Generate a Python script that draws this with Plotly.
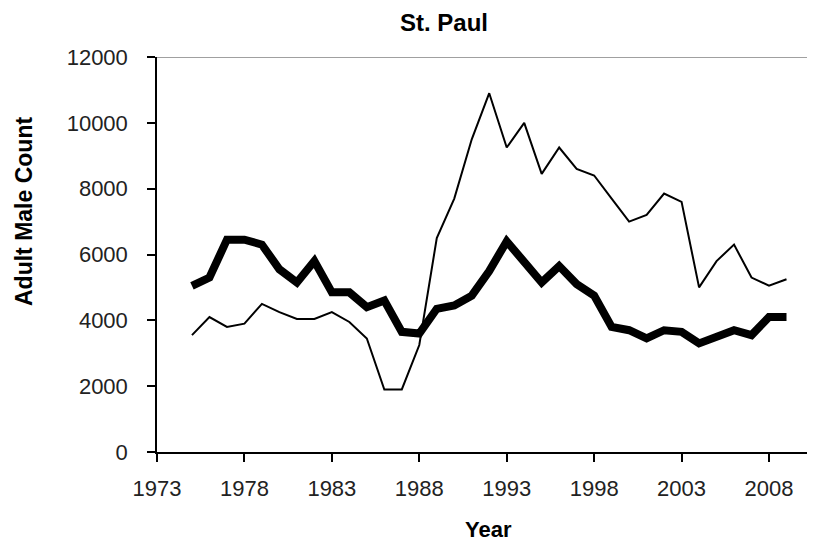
import plotly.graph_objects as go

years = list(range(1975, 2010))
thin_counts = [3550, 4100, 3800, 3900, 4500, 4250, 4040, 4040, 4250, 3950,
               3450, 1900, 1900, 3250, 6500, 7700, 9500, 10900, 9250, 10000,
               8450, 9250, 8600, 8400, 7700, 7000, 7200, 7850, 7600, 5000,
               5800, 6300, 5300, 5050, 5250]
thick_counts = [5050, 5300, 6450, 6450, 6300, 5550, 5150, 5800, 4850, 4850,
                4400, 4600, 3650, 3600, 4350, 4450, 4750, 5500, 6400, 5800,
                5150, 5650, 5100, 4750, 3800, 3700, 3450, 3700, 3650, 3300,
                3500, 3700, 3550, 4100, 4100]
x_ticks = [1973, 1978, 1983, 1988, 1993, 1998, 2003, 2008]
y_ticks = [0, 2000, 4000, 6000, 8000, 10000, 12000]

FONT = "Arial, Liberation Sans, sans-serif"
OFF = 8  # page body offset

W, H = 815 - OFF, 548 - OFF
L, T = 157 - OFF, 57 - OFF
PW, PH = W - L, 395

fig = go.Figure()
fig.add_trace(go.Scatter(x=years, y=thin_counts, mode="lines",
                         line=dict(color="black", width=2), showlegend=False))
fig.add_trace(go.Scatter(x=years, y=thick_counts, mode="lines",
                         line=dict(color="black", width=8), showlegend=False))

fig.add_shape(type="line", xref="paper", yref="y", x0=0, x1=1, y0=12000, y1=12000,
              line=dict(color="#a0a0a0", width=2))

fig.update_layout(
    width=W, height=H,
    margin=dict(l=L, r=0, t=T, b=H - T - PH),
    paper_bgcolor="white", plot_bgcolor="white",
    title=dict(text="<b>St. Paul</b>", x=(444 - OFF) / W, y=1 - (23 - OFF) / H,
               xanchor="center", yanchor="middle",
               font=dict(family=FONT, size=24, color="black")),
    xaxis=dict(range=[1973, 1973 + PW / 17.486], tickvals=x_ticks, ticktext=[str(v) for v in x_ticks],
               showgrid=False, zeroline=False, showline=True, linecolor="black", linewidth=1.5,
               ticks="outside", ticklen=8, tickwidth=1.5, tickcolor="black",
               tickfont=dict(family=FONT, size=22, color="#222"), ticklabelstandoff=8),
    yaxis=dict(range=[0, 12000], tickvals=y_ticks, ticktext=[str(v) for v in y_ticks],
               showgrid=False, zeroline=False, showline=True, linecolor="black", linewidth=1.5,
               ticks="outside", ticklen=8, tickwidth=1.5, tickcolor="black",
               tickfont=dict(family=FONT, size=22, color="#222"), ticklabelstandoff=15),
    annotations=[
        dict(text="<b>Adult Male Count</b>", xref="paper", yref="paper",
             x=(24 - 157) / PW, y=(452 - 212) / PH, textangle=-90, showarrow=False,
             xanchor="center", yanchor="middle",
             font=dict(family=FONT, size=23, color="black")),
        dict(text="<b>Year</b>", xref="paper", yref="paper",
             x=(488 - 157) / PW, y=(452 - 529) / PH, showarrow=False,
             xanchor="center", yanchor="middle",
             font=dict(family=FONT, size=22, color="black")),
    ],
)

fig.write_html("out.html")
